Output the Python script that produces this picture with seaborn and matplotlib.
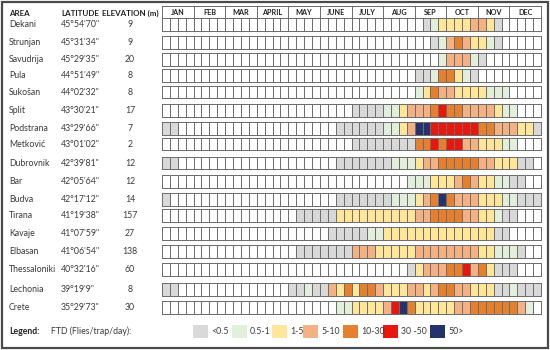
import numpy as np
import seaborn as sns
import matplotlib.pyplot as plt
from matplotlib.colors import ListedColormap
from matplotlib.patches import Rectangle

# --- data ---
areas = ['Dekani', 'Strunjan', 'Savudrija', 'Pula', 'Sukošan', 'Split', 'Podstrana',
         'Metković', 'Dubrovnik', 'Bar', 'Budva', 'Tirana', 'Kavaje', 'Elbasan',
         'Thessaloniki', 'Lechonia', 'Crete']
latitudes = ['45°54\'70"', '45°31\'34"', '45°29\'35"', '44°51\'49"', '44°02\'32"',
             '43°30\'21"', '43°29\'66"', '43°01\'02"', '42°39\'81"', '42°05\'64"',
             '42°17\'12"', '41°19\'38"', '41°07\'59"', '41°06\'54"', '40°32\'16"',
             '39°19\'9"', '35°29\'73"']
elevations = [9, 9, 20, 8, 8, 17, 7, 2, 12, 12, 14, 157, 27, 138, 60, 8, 30]
months = ['JAN', 'FEB', 'MAR', 'APRIL', 'MAY', 'JUNE', 'JULY', 'AUG', 'SEP', 'OCT', 'NOV', 'DEC']

# FTD class per week (4 weeks per month, JAN..DEC):
# 0 none, 1 <0.5, 2 0.5-1, 3 1-5, 4 5-10, 5 10-30, 6 30-50, 7 50>
weekly_class = [
    '0000 0000 0000 0000 0000 0000 0000 0000 0123 3334 4310 0000',  # Dekani
    '0000 0000 0000 0000 0000 0000 0000 0000 0012 4543 3210 0000',  # Strunjan
    '0000 0000 0000 0000 0000 0000 0000 0000 0002 4442 1000 0000',  # Savudrija
    '0000 0000 0000 0000 0000 0000 0000 0000 1125 5321 0000 0000',  # Pula
    '0000 0000 0000 0000 0000 0000 0000 0000 2354 4333 3222 0000',  # Sukošan
    '0000 0000 0000 0000 0000 0000 1111 2234 4456 5544 4432 2000',  # Split
    '1100 0000 0000 0000 0000 0011 1111 2234 7766 6666 5544 4331',  # Podstrana
    '0000 0000 0000 0000 0000 0000 1111 1111 5565 6644 3332 2000',  # Metković
    '1100 0000 0000 0000 0000 0011 1111 1222 3445 5555 4433 3110',  # Dubrovnik
    '0000 0000 0000 0000 0000 0000 0000 0002 2233 3454 3322 1100',  # Bar
    '1000 0000 0000 0000 0000 0011 1111 1222 3457 5444 3332 2111',  # Budva
    '0000 0000 0000 0000 0111 1133 3333 3333 4455 5544 3321 1000',  # Tirana
    '0000 0000 0000 0000 0000 0111 1122 3333 3333 3333 3311 0000',  # Kavaje
    '0000 0000 0000 0000 0111 1111 4443 3333 4444 4444 3322 2100',  # Elbasan
    '0000 0000 0000 0000 0000 0000 0000 0001 3444 5564 5311 1000',  # Thessaloniki
    '1100 0000 0000 0000 1121 1435 3554 3334 4345 5443 3311 2111',  # Lechonia
    '0000 0000 0000 0000 0000 0022 3333 4675 3333 3445 5555 5420',  # Crete
]
legend_labels = ['<0.5', '0.5-1', '1-5', '5-10', '10-30', '30 -50', '50>']

# --- styles / layout (pixels on a 550x350 canvas) ---
class_colors = ['#ffffff', '#d9d9d9', '#e2efda', '#ffe699', '#f4b183',
                '#e5802f', '#e8160c', '#23336b']
row_top_px = [18, 36, 53, 69, 86, 104, 122, 138, 157, 175, 193, 209,
              227, 245, 263, 283, 301]
row_h_px = 12.5
grid_x0, grid_x1 = 162, 541
W, H = 550, 350
edge = '#6e6e6e'
txt = '#3a3a3a'

sns.set_style('white')
plt.rcParams['font.family'] = ['Lato', 'DejaVu Sans']

fig = plt.figure(figsize=(5.5, 3.5), dpi=100)

# canvas for text, frame and legend
canvas = fig.add_axes([0, 0, 1, 1])
canvas.set_xlim(0, W)
canvas.set_ylim(H, 0)
canvas.axis('off')
canvas.add_patch(Rectangle((1.5, 1.5), W - 3.5, H - 3.5, fill=False,
                           edgecolor='#4a4a4a', linewidth=1.6))

fs = 6.3
hfs = 5.8
canvas.text(9, 13, 'AREA', fontsize=hfs, fontweight='bold', color='#222222', va='center')
canvas.text(61, 13, 'LATITUDE', fontsize=hfs, fontweight='bold', color='#222222', va='center')
canvas.text(102, 13, 'ELEVATION (m)', fontsize=hfs, fontweight='bold', color='#222222', va='center')

cmap = ListedColormap(class_colors)


def px_axes(x0, x1, top, h):
    return fig.add_axes([x0 / W, 1 - (top + h) / H, (x1 - x0) / W, h / H])


# month header
hax = px_axes(grid_x0, grid_x1, 5.5, 14.5)
sns.heatmap(np.zeros((1, 12)), ax=hax, cmap=ListedColormap(['#ffffff']), cbar=False,
            annot=np.array([months]), fmt='', linewidths=0.5, linecolor=edge,
            xticklabels=False, yticklabels=False,
            annot_kws={'fontsize': 5.2, 'fontweight': 'bold', 'color': '#222222'})
hax.collections[0].set_clip_on(False)

# one strip of weekly cells per area
for i, area in enumerate(areas):
    codes = np.array([[int(c) for c in weekly_class[i].replace(' ', '')]])
    ax = px_axes(grid_x0, grid_x1, row_top_px[i], row_h_px)
    sns.heatmap(codes, ax=ax, cmap=cmap, vmin=-0.5, vmax=7.5, cbar=False,
                linewidths=0.5, linecolor=edge, xticklabels=False, yticklabels=False)
    ax.collections[0].set_clip_on(False)

    yc = row_top_px[i] + row_h_px / 2
    canvas.text(9, yc, area, fontsize=fs, color=txt, va='center')
    canvas.text(61, yc, latitudes[i], fontsize=fs, color=txt, va='center')
    canvas.text(130, yc, str(elevations[i]), fontsize=fs, color=txt, va='center', ha='center')

# legend
leg_y = 331.5
canvas.text(9, leg_y, 'Legend:', fontsize=fs, fontweight='bold', color='#222222', va='center')
canvas.text(51, leg_y, 'FTD (Flies/trap/day):', fontsize=fs, color=txt, va='center')
leg_x = [193, 232, 272, 303, 343, 383, 430]
for k, lab in enumerate(legend_labels):
    canvas.add_patch(Rectangle((leg_x[k], leg_y - 6.5), 15, 13,
                               facecolor=class_colors[k + 1], edgecolor='none'))
    canvas.text(leg_x[k] + 18, leg_y, lab, fontsize=fs, color=txt, va='center')

fig.savefig('out.png', dpi=100)
